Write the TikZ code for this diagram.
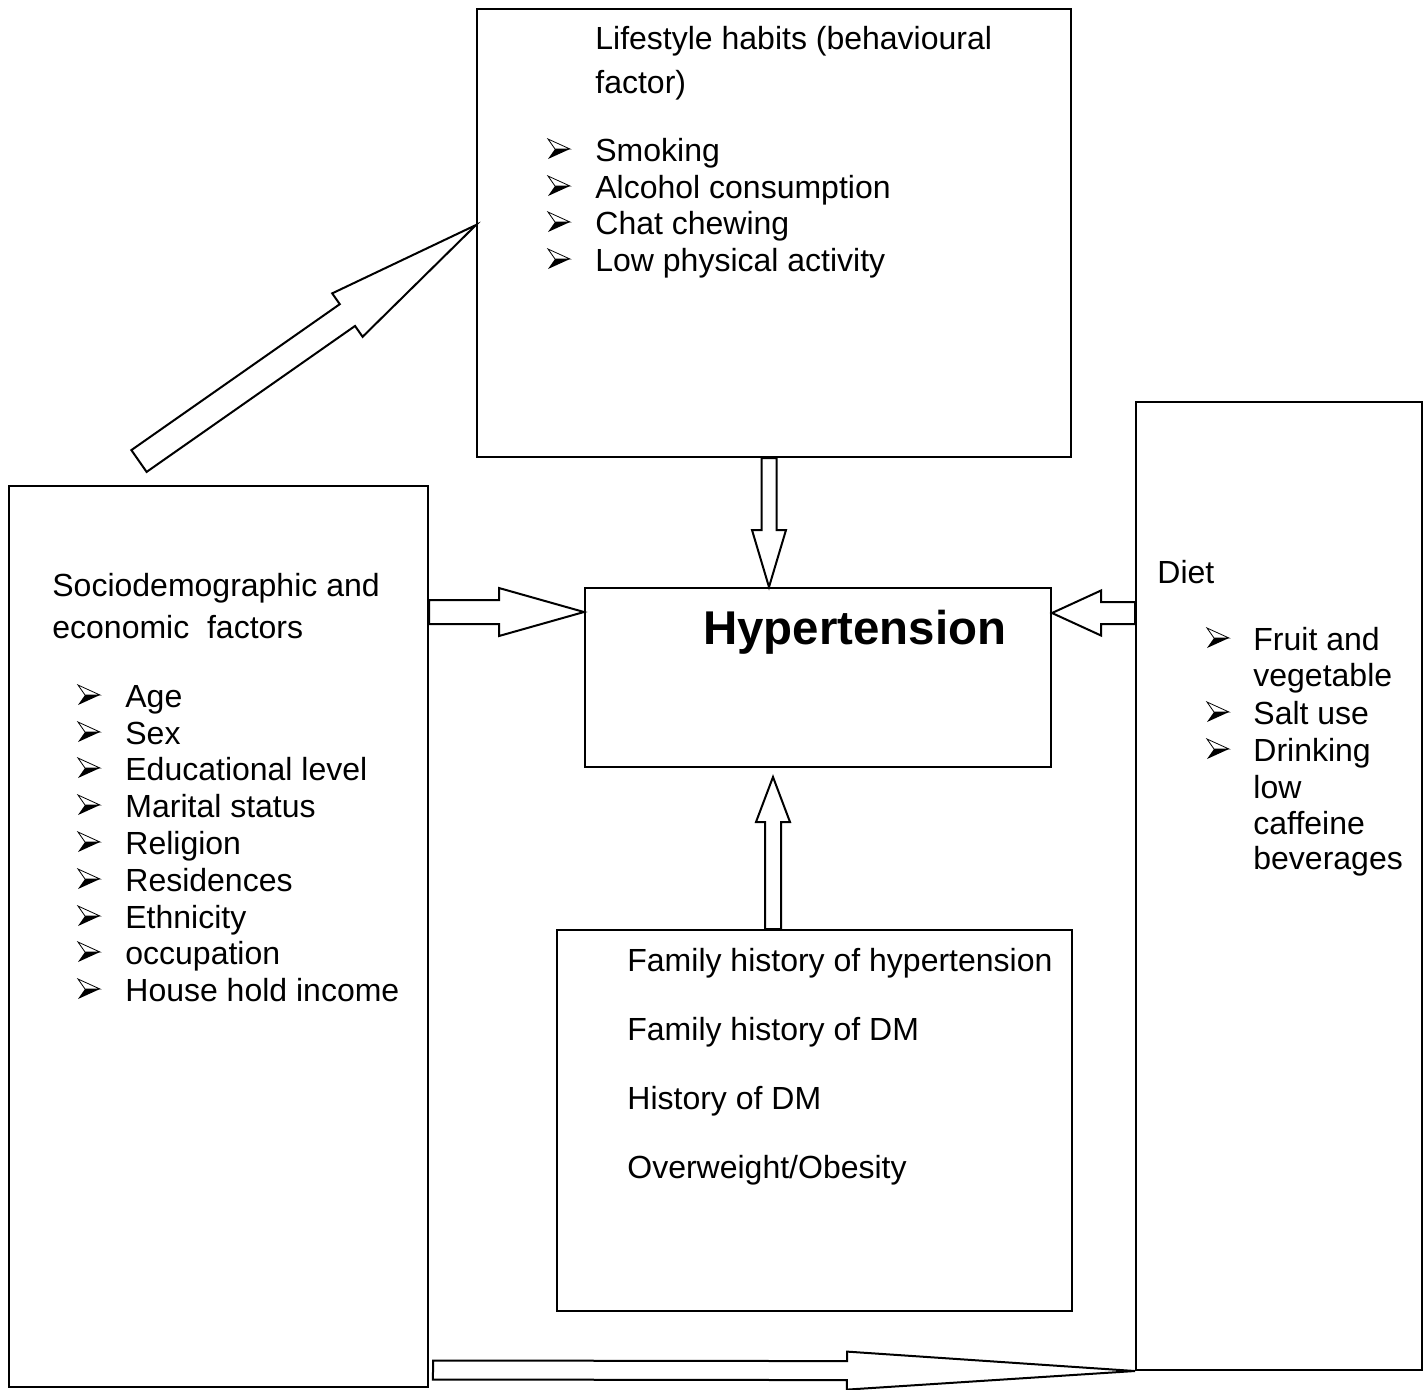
\documentclass[tikz,border=0pt]{standalone}
\usepackage{fontspec}
\setmainfont{Liberation Sans}
\usetikzlibrary{calc}
\tikzset{
  box/.style={draw, line width=1pt, inner sep=0pt},
  txt/.style={inner sep=0pt, anchor=base west, font=\fontsize{16}{18.35}\selectfont},
  pics/bul/.style={code={
    \draw[line width=0.4pt] (0,-10) -- (22,0) -- (7,0) -- cycle;
    \fill (7,0) -- (22,0) -- (0,10) -- cycle;}}
}
% tail, tip, half shaft, half head, head length
\newcommand{\blockarrow}[5]{
  \coordinate (ba) at ($(#2)!#5!(#1)$);
  \draw[line width=1pt, fill=white] ($(#1)!#3!90:(#2)$) -- ($(ba)!#3!90:(#2)$)
    -- ($(ba)!#4!90:(#2)$) -- (#2) -- ($(ba)!#4!-90:(#2)$)
    -- ($(ba)!#3!-90:(#2)$) -- ($(#1)!#3!-90:(#2)$) -- cycle;
}
\begin{document}
\begin{tikzpicture}[x=0.5pt, y=-0.5pt]
\useasboundingbox (0,0) rectangle (1426,1389);
% boxes
\node[box, minimum width=297pt, minimum height=224pt] (life) at (774,233) {};
\node[box, minimum width=209.5pt, minimum height=450.5pt] (socio) at (218.5,936.5) {};
\node[box, minimum width=233pt, minimum height=89.5pt] (hyper) at (818,677.5) {};
\node[box, minimum width=257.5pt, minimum height=190.5pt] (family) at (814.5,1120.5) {};
\node[box, minimum width=143pt, minimum height=484pt] (diet) at (1279,886) {};

% block arrows
\coordinate (t1) at ($(socio.north west)+(131,-24)$);
\coordinate (h1) at ($(life.west)+(0,-8)$);
\blockarrow{t1}{h1}{6.65pt}{13.25pt}{78.5pt}
\coordinate (h2) at ($(hyper.north)+(-49,0)$);
\coordinate (t2) at (h2 |- life.south);
\blockarrow{t2}{h2}{3.75pt}{8.5pt}{28.5pt}
\coordinate (h3) at ($(hyper.south)+(-45,9)$);
\coordinate (t3) at (h3 |- family.north);
\blockarrow{t3}{h3}{4pt}{8.5pt}{22.5pt}
\coordinate (h4) at ($(hyper.north west)+(0,25)$);
\coordinate (t4) at (socio.east |- h4);
\blockarrow{t4}{h4}{6pt}{12pt}{42.5pt}
\coordinate (h5) at ($(hyper.north east)+(0,26)$);
\coordinate (t5) at (diet.west |- h5);
\blockarrow{t5}{h5}{5.5pt}{11.25pt}{24.5pt}
\coordinate (t6) at ($(socio.south east)+(4,-18)$);
\coordinate (h6) at (diet.south west);
\blockarrow{t6}{h6}{4.75pt}{9.5pt}{144pt}

% lifestyle habits
\node[txt] (lt1) at (595,49) {Lifestyle habits (behavioural};
\node[txt] (lt2) at (595,93) {factor)};
\foreach \t/\y [count=\i] in {Smoking/161, Alcohol consumption/198, Chat chewing/234, Low physical activity/271}{
  \pic at (548,\y-12) {bul};
  \node[txt] (l\i) at (595,\y) {\t};
}

% sociodemographic
\node[txt] (st1) at (52,596) {Sociodemographic and};
\node[txt] (st2) at (52,638) {economic\ \ factors};
\foreach \t/\y [count=\i] in {Age/707, Sex/744, Educational level/780, Marital status/817, Religion/854, Residences/891, Ethnicity/928, occupation/964, House hold income/1001}{
  \pic at (78,\y-12) {bul};
  \node[txt] (s\i) at (125,\y) {\t};
}

% diet
\node[txt] (dt) at (1157,583) {Diet};
\foreach \t/\y [count=\i] in {Fruit and/650, vegetable/686, Salt use/724, Drinking/761, low/798, caffeine/834, beverages/869}{
  \node[txt] (d\i) at (1253,\y) {\t};
}
\foreach \y in {650,724,761}
  \pic at (1207,\y-12) {bul};

% family history
\node[txt] (f1) at (627,971) {Family history of hypertension};
\node[txt] (f2) at (627,1040) {Family history of DM};
\node[txt] (f3) at (627,1109) {History of DM};
\node[txt] (f4) at (627,1178) {Overweight/Obesity};

% outcome
\node[anchor=base west, inner sep=0pt, font=\bfseries\fontsize{23.7}{28}\selectfont] (ht) at (703,644) {Hypertension};
\end{tikzpicture}
\end{document}
